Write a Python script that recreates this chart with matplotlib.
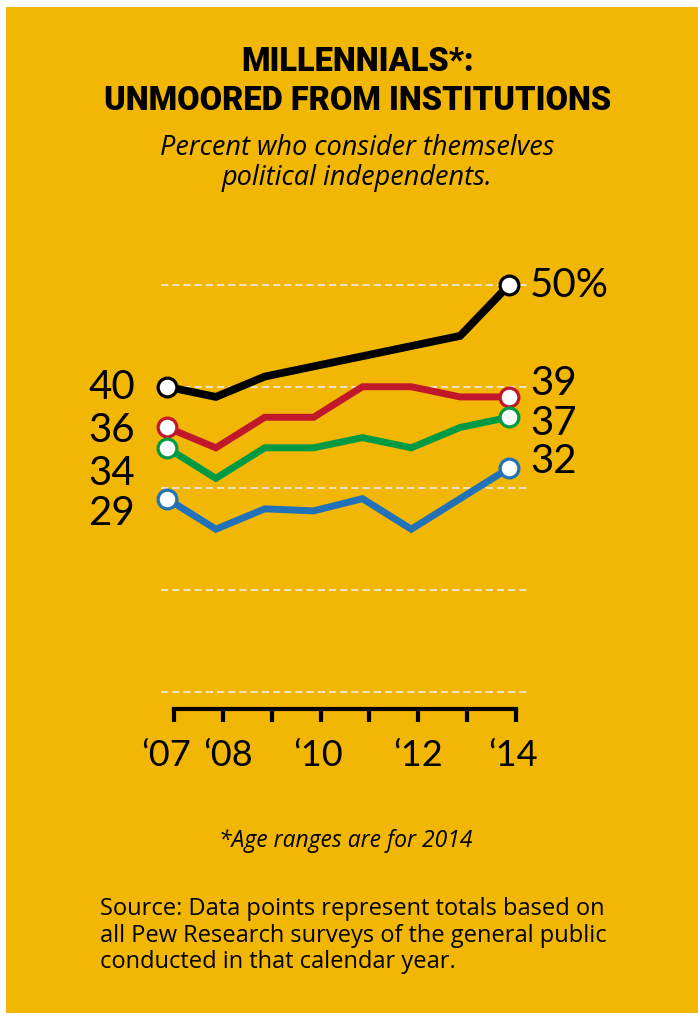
import matplotlib
matplotlib.use("Agg")
import matplotlib.pyplot as plt
from matplotlib.patches import Rectangle
from matplotlib.transforms import ScaledTranslation

# ---- data ----
years = [2007, 2008, 2009, 2010, 2011, 2012, 2013, 2014]
millennials = [40, 39, 41, 42, 43, 44, 45, 50]   # black
genx = [36, 34, 37, 37, 40, 40, 39, 39]          # red
boomers = [34, 31, 34, 34, 35, 34, 36, 37]       # green
silent = [29, 26, 28, 27.8, 29, 26, 29, 32]      # blue
grid_values = [10, 20, 30, 40, 50]
tick_years = [2007, 2008, 2009, 2010, 2011, 2012, 2013, 2014]
tick_labels = ["\u201807", "\u201808", "", "\u201810", "", "\u201812", "", "\u201814"]

W, H = 698, 1013
YELLOW = "#F1B704"
NUMFONT = "Lato"
BODY = "Open Sans"
TITLE = "Roboto"

def fx(px):
    return px / W

def fy(py):
    return 1 - py / H

fig = plt.figure(figsize=(W / 100, H / 100), dpi=100, facecolor="white")
fig.patches.append(Rectangle((fx(6), 0), 1 - fx(6), fy(7), transform=fig.transFigure,
                             facecolor=YELLOW, edgecolor="none", zorder=-10))

# ---- titles ----
fig.text(fx(358), fy(71), "MILLENNIALS*:", ha="center", va="baseline",
         fontsize=23.5, fontweight="black", family=TITLE)
fig.text(fx(358), fy(110), "UNMOORED FROM INSTITUTIONS", ha="center", va="baseline",
         fontsize=23.5, fontweight="black", family=TITLE)
fig.text(fx(357), fy(155), "Percent who consider themselves", ha="center", va="baseline",
         fontsize=19.5, style="italic", family=BODY)
fig.text(fx(357), fy(185), "political independents.", ha="center", va="baseline",
         fontsize=19.5, style="italic", family=BODY)

# ---- main axes ----
ax = fig.add_axes([fx(167), fy(692), fx(509) - fx(167), fy(285) - fy(692)])
ax.set_xlim(years[0], years[-1])
ax.set_ylim(10, 50)
ax.set_facecolor("none")
ax.axis("off")

ax.hlines(grid_values, -0.0175, 1.0526, transform=ax.get_yaxis_transform(),
          colors="#EEE6D4", linewidth=1.3, linestyles=(0, (4, 2.2)), clip_on=False, zorder=1)

series = [
    (silent, "#2272B9", 5.0, [-32, -26], [21, -5]),
    (genx, "#C1172B", 5.0, [-32, -15], [21, 2]),
    (boomers, "#009A45", 5.0, [-32, -37], [21, -18]),
    (millennials, "#000000", 5.6, [-32, -12], [21, -12]),
]
for i, (vals, col, lw, loff, roff) in enumerate(series):
    ax.plot(years, vals, color=col, linewidth=lw, solid_joinstyle="miter",
            marker="o", markevery=[0, len(vals) - 1], markersize=13.5,
            markerfacecolor="white", markeredgecolor=col, markeredgewidth=2.3,
            clip_on=False, zorder=3 + i)
    first = vals[0]
    last = vals[-1]
    ax.annotate(f"{first:g}", xy=(years[0], first), xytext=(loff[0], loff[1]),
                textcoords="offset pixels", ha="right", va="baseline",
                fontsize=29, family=NUMFONT, annotation_clip=False)
    lab = f"{last:g}%" if col == "#000000" else f"{last:g}"
    ax.annotate(lab, xy=(years[-1], last), xytext=(roff[0], roff[1]),
                textcoords="offset pixels", ha="left", va="baseline",
                fontsize=29, family=NUMFONT, annotation_clip=False)

# ---- bracket x axis ----
ax2 = fig.add_axes([fx(174), fy(709), fx(516) - fx(174), 0.0001])
ax2.set_xlim(tick_years[0], tick_years[-1])
ax2.set_facecolor("none")
for s in ["top", "left", "right"]:
    ax2.spines[s].set_visible(False)
ax2.spines["bottom"].set_linewidth(3.0)
ax2.spines["bottom"].set_capstyle("projecting")
ax2.set_yticks([])
ax2.set_xticks(tick_years)
ax2.set_xticklabels(tick_labels, fontsize=26, family=NUMFONT)
ax2.tick_params(axis="x", direction="out", length=9.5, width=3.0, pad=12)
label_shift_px = [-8, 5, 0, -2, 0, 0, 0, -3]
for lbl, dx in zip(ax2.get_xticklabels(), label_shift_px):
    lbl.set_transform(lbl.get_transform() + ScaledTranslation(dx / 100, 0, fig.dpi_scale_trans))

# ---- footnotes ----
fig.text(fx(346), fy(847), "*Age ranges are for 2014", ha="center", va="baseline",
         fontsize=16.5, style="italic", family=BODY)
src = ["Source: Data points represent totals based on",
       "all Pew Research surveys of the general public",
       "conducted in that calendar year."]
for k, line in enumerate(src):
    fig.text(fx(100), fy(915 + 26.5 * k), line, ha="left", va="baseline",
             fontsize=17, family=BODY)

fig.savefig("out.png", dpi=100, facecolor="white")
